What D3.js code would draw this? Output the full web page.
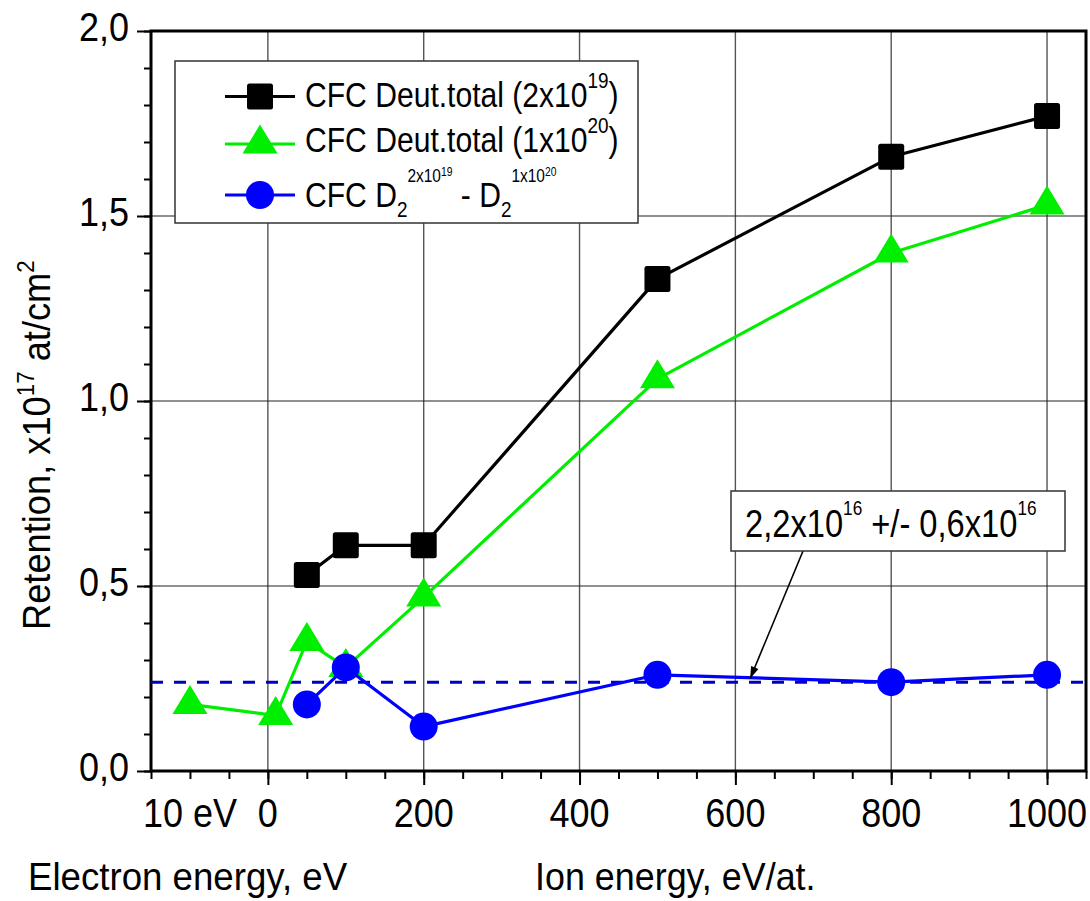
<!DOCTYPE html>
<html>
<head>
<meta charset="utf-8">
<script src="https://cdn.jsdelivr.net/npm/d3@7"></script>
<style>
  body { margin: 0; background: #fff; }
  text { font-family: 'Liberation Sans', Arial, sans-serif; fill: #000; }
</style>
</head>
<body>
<svg id="mainsvg" width="1090" height="901"></svg>
<script>
// main svg & layout
const svg = d3.select('#mainsvg');
const width = +svg.attr('width');
const height = +svg.attr('height');
const margin = {top: 31, right: 4, bottom: 130, left: 151};
const innerWidth = width - margin.left - margin.right;
const innerHeight = height - margin.top - margin.bottom;

// data
const ionEnergy = [50, 100, 200, 500, 800, 1000];
const deutTotal2e19 = [0.53, 0.61, 0.61, 1.33, 1.66, 1.77];
const greenEnergy = [-100, 10, 50, 100, 200, 500, 800, 1000];
const deutTotal1e20 = [0.18, 0.15, 0.35, 0.28, 0.47, 1.06, 1.40, 1.53];
const diffD2 = [0.18, 0.28, 0.12, 0.26, 0.24, 0.26];
const meanLevel = 0.24;
const annotTarget = [619, 0.25];

const xTickValues = [-100, 0, 200, 400, 600, 800, 1000];
const xTickLabels = ['10 eV', '0', '200', '400', '600', '800', '1000'];
const xGridValues = [0, 200, 400, 600, 800, 1000];
const yTickValues = [0, 0.5, 1.0, 1.5, 2.0];
const yGridValues = [0.5, 1.0, 1.5];

const colors = {black: '#000000', green: '#00ee00', blue: '#0000ff', dash: '#0000c0'};

const xScale = d3.scaleLinear().domain([-150, 1050]).range([0, innerWidth]);
const yScale = d3.scaleLinear().domain([0, 2]).range([innerHeight, 0]);
const commaFmt = d => d3.format('.1f')(d).replace('.', ',');

const g = svg.append('g')
  .attr('transform', `translate(${margin.left}, ${margin.top})`)
  .attr('id', 'maingroup');

// text helper: parts = [{text, size, dy}]; sx squeezes it like a narrow font
const addText = function(parent, x, y, parts, size, sx, rot, anchor) {
  const t = parent.append('text')
    .attr('transform', `translate(${x}, ${y})` + (rot ? ` rotate(${rot})` : '') + ` scale(${sx}, 1)`)
    .attr('font-size', size)
    .attr('text-anchor', anchor || 'start');
  parts.forEach(p => {
    t.append('tspan').attr('font-size', p.size || size).attr('dy', p.dy || 0).text(p.text);
  });
  return t;
};

// grid lines
g.selectAll('.xgrid').data(xGridValues).join('line')
  .attr('class', 'xgrid')
  .attr('x1', d => xScale(d)).attr('x2', d => xScale(d))
  .attr('y1', 0).attr('y2', innerHeight)
  .attr('stroke', '#555').attr('stroke-width', 1.4);
g.selectAll('.ygrid').data(yGridValues).join('line')
  .attr('class', 'ygrid')
  .attr('x1', 0).attr('x2', innerWidth)
  .attr('y1', d => yScale(d)).attr('y2', d => yScale(d))
  .attr('stroke', '#222').attr('stroke-width', 1.2);

// axes: minor + major ticks (labels drawn separately)
const styleTicks = sel => {
  sel.select('.domain').remove();
  sel.selectAll('line').attr('stroke', '#000').attr('stroke-width', 2);
};
g.append('g').attr('transform', `translate(0, ${innerHeight})`)
  .call(d3.axisBottom(xScale).tickValues(d3.range(-150, 1051, 50)).tickSize(8).tickFormat(''))
  .call(styleTicks);
g.append('g').attr('transform', `translate(0, ${innerHeight})`)
  .call(d3.axisBottom(xScale).tickValues(xGridValues).tickSize(14).tickFormat(''))
  .call(styleTicks);
g.append('g')
  .call(d3.axisLeft(yScale).tickValues(d3.range(0, 2.01, 0.1)).tickSize(7).tickFormat(''))
  .call(styleTicks);
g.append('g')
  .call(d3.axisLeft(yScale).tickValues(yTickValues).tickSize(14).tickFormat(''))
  .call(styleTicks);

const tickLabels = g.append('g').attr('id', 'ticklabels');
xTickValues.forEach((v, i) => {
  addText(tickLabels, xScale(v), innerHeight + 56, [{text: xTickLabels[i]}], 40, 0.9, 0, 'middle');
});
yTickValues.forEach(v => {
  addText(tickLabels, -22, yScale(v) + 10, [{text: commaFmt(v)}], 40, 0.9, 0, 'end');
});

// frame
g.append('rect')
  .attr('width', innerWidth).attr('height', innerHeight)
  .attr('fill', 'none').attr('stroke', '#000').attr('stroke-width', 3);

// mean level dashed line
g.append('line')
  .attr('x1', 0).attr('x2', innerWidth)
  .attr('y1', yScale(meanLevel)).attr('y2', yScale(meanLevel))
  .attr('stroke', colors.dash).attr('stroke-width', 3)
  .attr('stroke-dasharray', '12,11');

// markers
const triPath = 'M0,-19.5L17.5,9.5L-17.5,9.5Z';
const drawMarker = function(sel, type, color) {
  if (type === 'square') {
    sel.append('rect').attr('x', -13).attr('y', -13).attr('width', 26).attr('height', 26)
      .attr('rx', 2.5).attr('fill', color);
  } else if (type === 'triangle') {
    sel.append('path').attr('d', triPath).attr('fill', color);
  } else {
    sel.append('circle').attr('r', 14).attr('fill', color);
  }
};

const series = [
  {id: 'black', xs: ionEnergy, ys: deutTotal2e19, color: colors.black, type: 'square'},
  {id: 'green', xs: greenEnergy, ys: deutTotal1e20, color: colors.green, type: 'triangle'},
  {id: 'blue', xs: ionEnergy, ys: diffD2, color: colors.blue, type: 'circle'}
];

const line = d3.line().x(d => xScale(d[0])).y(d => yScale(d[1]));

series.forEach(s => {
  const pts = s.xs.map((x, i) => [x, s.ys[i]]);
  const sg = g.append('g').attr('id', 'series-' + s.id);
  sg.append('path')
    .attr('d', line(pts))
    .attr('fill', 'none').attr('stroke', s.color).attr('stroke-width', 3.2)
    .attr('stroke-linejoin', 'round');
  sg.selectAll('.pt').data(pts).join('g')
    .attr('class', 'pt')
    .attr('transform', d => `translate(${xScale(d[0])}, ${yScale(d[1])})`)
    .each(function() { drawMarker(d3.select(this), s.type, s.color); });
});

// legend
const legend = svg.append('g').attr('id', 'legend');
legend.append('rect')
  .attr('x', 175).attr('y', 61).attr('width', 463).attr('height', 162)
  .attr('fill', '#fff').attr('stroke', '#333').attr('stroke-width', 1.5);

const legendRows = [
  {s: series[0], y: 96.5, base: 106.5, parts: [
    {text: 'CFC Deut.total (2x10'}, {text: '19', size: 22, dy: -19}, {text: ')', size: 35, dy: 19}]},
  {s: series[1], y: 144, base: 151.5, parts: [
    {text: 'CFC Deut.total (1x10'}, {text: '20', size: 22, dy: -19}, {text: ')', size: 35, dy: 19}]},
  {s: series[2], y: 195, base: 206.5, parts: [
    {text: 'CFC D'}, {text: '2', size: 22, dy: 10}, {text: '2x10', size: 18, dy: -35},
    {text: '19', size: 12, dy: -6}, {text: ' - D', size: 35, dy: 31},
    {text: '2', size: 22, dy: 10}, {text: '1x10', size: 18, dy: -35}, {text: '20', size: 12, dy: -6}]}
];

legendRows.forEach(r => {
  legend.append('line')
    .attr('x1', 225).attr('x2', 295).attr('y1', r.y).attr('y2', r.y)
    .attr('stroke', r.s.color).attr('stroke-width', 3.2);
  const m = legend.append('g').attr('transform', `translate(260, ${r.y})`);
  drawMarker(m, r.s.type, r.s.color);
  addText(legend, 305, r.base, r.parts, 35, 0.86);
});

// annotation box with pointer
const annot = svg.append('g').attr('id', 'annotation');
const tx = margin.left + xScale(annotTarget[0]);
const ty = margin.top + yScale(annotTarget[1]);
annot.append('line')
  .attr('x1', 803).attr('y1', 551).attr('x2', tx).attr('y2', ty)
  .attr('stroke', '#000').attr('stroke-width', 1.6);
const ang = Math.atan2(ty - 551, tx - 803) * 180 / Math.PI;
annot.append('path')
  .attr('d', 'M0,0L-12,-4L-12,4Z')
  .attr('transform', `translate(${tx}, ${ty}) rotate(${ang})`)
  .attr('fill', '#000');
annot.append('rect')
  .attr('x', 731).attr('y', 491).attr('width', 334).attr('height', 60)
  .attr('fill', '#fff').attr('stroke', '#333').attr('stroke-width', 1.5);
addText(annot, 745, 537, [
  {text: '2,2x10'}, {text: '16', size: 20, dy: -22},
  {text: ' +/- 0,6x10', size: 38, dy: 22}, {text: '16', size: 20, dy: -22}
], 38, 0.86);

// axis titles
addText(svg, 28, 890, [{text: 'Electron energy, eV'}], 39, 0.94);
addText(svg, 535, 890, [{text: 'Ion energy, eV/at.'}], 39, 0.92);
addText(svg, 50, 630, [
  {text: 'Retention, x10'}, {text: '17', size: 24, dy: -16},
  {text: ' at/cm', size: 39, dy: 16}, {text: '2', size: 24, dy: -16}
], 39, 0.93, -90);
</script>
</body>
</html>
